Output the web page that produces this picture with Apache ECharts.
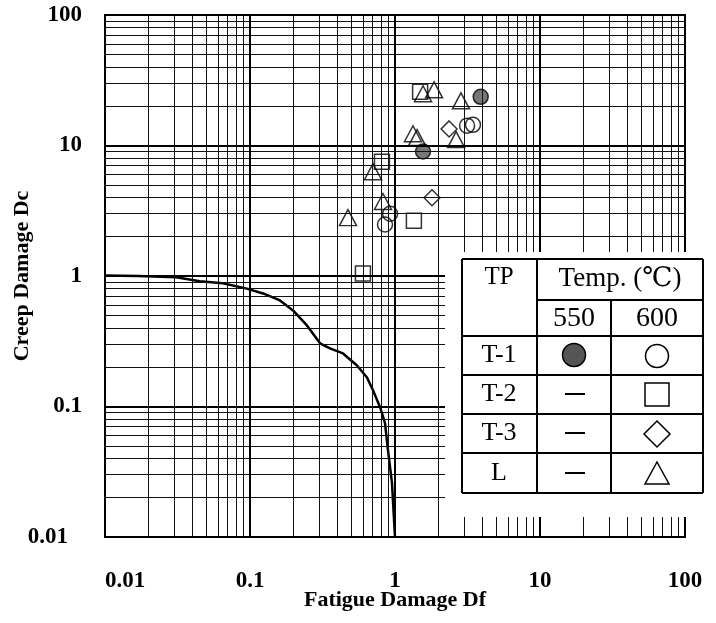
<!DOCTYPE html>
<html>
<head>
<meta charset="utf-8">
<title>Creep–Fatigue Damage Interaction</title>
<script src="https://cdn.jsdelivr.net/npm/echarts@6/dist/echarts.min.js"></script>
<style>
  html, body { margin: 0; padding: 0; background: #fff; }
  #chart { width: 716px; height: 623px; }
</style>
</head>
<body>
<div id="chart"></div>
<script>
// Axis tick labels (decades)
const xTickLabels = ['0.01', '0.1', '1', '10', '100'];
const yTickLabels = ['0.01', '0.1', '1', '10', '100'];

// Log-paper grid: intermediate lines 2..9 inside each decade, plus decade lines
const minorMultipliers = [2, 3, 4, 5, 6, 7, 8, 9];
const decadeStarts = [0.01, 0.1, 1, 10];
const decadeLines = [0.1, 1, 10];

// Damage envelope (bilinear-type design curve)
const curveDf = [0.01, 0.0169, 0.031, 0.045, 0.065, 0.095, 0.123, 0.161, 0.198, 0.247, 0.304, 0.356, 0.438, 0.547, 0.641, 0.705, 0.789, 0.853, 0.895, 0.953, 1.0];
const curveDc = [1.01, 1.0, 0.98, 0.91, 0.88, 0.80, 0.735, 0.65, 0.545, 0.418, 0.305, 0.279, 0.255, 0.206, 0.167, 0.133, 0.0987, 0.0745, 0.046, 0.026, 0.01];

// Test results: fatigue damage Df and creep damage Dc
const t1At550Df = [3.9, 1.56];
const t1At550Dc = [23.6, 9.0];
const t1At600Df = [3.14, 3.45, 0.925, 0.853];
const t1At600Dc = [14.2, 14.4, 3.0, 2.48];
const t2At600Df = [1.49, 0.813, 1.35, 0.601];
const t2At600Dc = [25.8, 7.5, 2.65, 1.045];
const t3At600Df = [2.36, 1.80];
const t3At600Dc = [13.4, 3.98];
const lAt600Df = [1.56, 1.86, 2.85, 2.64, 1.33, 1.42, 0.705, 0.826, 0.474];
const lAt600Dc = [24.9, 26.7, 22.0, 11.1, 12.3, 11.5, 6.3, 3.72, 2.8];

const SERIF = "'Liberation Serif', 'DejaVu Serif', 'Noto Sans CJK JP', serif";

function zip(xs, ys) { return xs.map((x, i) => [x, ys[i]]); }

const gridValues = [];
decadeStarts.forEach(d => minorMultipliers.forEach(m => gridValues.push(+(d * m).toPrecision(3))));

const gridLineData = [];
gridValues.forEach(v => {
  gridLineData.push({ xAxis: v });
  gridLineData.push({ yAxis: v });
});
decadeLines.forEach(v => {
  gridLineData.push({ xAxis: v, lineStyle: { width: 2, color: '#000' } });
  gridLineData.push({ yAxis: v, lineStyle: { width: 2, color: '#000' } });
});

function tickLabel(labels, v) {
  const idx = Math.round(Math.log10(v)) + 2;
  return labels[idx] !== undefined ? labels[idx] : '';
}

const hollow = { color: 'rgba(0,0,0,0)', borderColor: '#000', borderWidth: 1.5 };

// Legend table (drawn over a white panel that hides the grid beneath it)
const tbl = { l: 462, c1: 537, c2: 611, r: 703, t: 259, sub: 300, rows: [336, 375, 414, 453, 493] };
const lineStyle = { stroke: '#000', lineWidth: 2 };
function hLine(x1, x2, y) { return { type: 'line', z: 101, shape: { x1, y1: y, x2, y2: y }, style: lineStyle }; }
function vLine(x, y1, y2) { return { type: 'line', z: 101, shape: { x1: x, y1, x2: x, y2 }, style: lineStyle }; }
function txt(text, x, y, size) {
  return { type: 'text', z: 102, x, y, style: { text, fill: '#000', font: size + 'px ' + SERIF, align: 'center', verticalAlign: 'middle' } };
}
const rowCenters = [355, 394, 433, 473];
const rowNames = ['T-1', 'T-2', 'T-3', 'L'];
const col550 = 574, col600 = 657;

const tableGraphics = [
  { type: 'rect', z: 100, shape: { x: 445, y: 252, width: 262, height: 265 }, style: { fill: '#fff' } },
  hLine(tbl.l, tbl.r, tbl.t),
  hLine(tbl.c1, tbl.r, tbl.sub),
  ...tbl.rows.map(y => hLine(tbl.l, tbl.r, y)),
  vLine(tbl.l, tbl.t, tbl.rows[4]),
  vLine(tbl.c1, tbl.t, tbl.rows[4]),
  vLine(tbl.c2, tbl.sub, tbl.rows[4]),
  vLine(tbl.r, tbl.t, tbl.rows[4]),
  txt('TP', 499, 277, 25),
  txt('Temp. (℃)', 620, 279, 27),
  txt('550', col550, 319, 28),
  txt('600', col600, 319, 28),
  ...rowNames.map((n, i) => txt(n, 499, rowCenters[i], 26)),
  // 550 °C column
  { type: 'circle', z: 102, shape: { cx: col550, cy: 355, r: 11.5 }, style: { fill: '#555', stroke: '#000', lineWidth: 1.5 } },
  ...[394, 433, 473].map(y => ({ type: 'line', z: 102, shape: { x1: 565, y1: y, x2: 585, y2: y }, style: { stroke: '#000', lineWidth: 2 } })),
  // 600 °C column
  { type: 'circle', z: 102, shape: { cx: col600, cy: 356, r: 11.5 }, style: { fill: 'none', stroke: '#000', lineWidth: 1.5 } },
  { type: 'rect', z: 102, shape: { x: 645, y: 383, width: 24, height: 23 }, style: { fill: 'none', stroke: '#000', lineWidth: 1.5 } },
  { type: 'polygon', z: 102, shape: { points: [[col600, 421], [670, 434], [col600, 447], [644, 434]] }, style: { fill: 'none', stroke: '#000', lineWidth: 1.5 } },
  { type: 'polygon', z: 102, shape: { points: [[col600, 462], [669, 484], [645, 484]] }, style: { fill: 'none', stroke: '#000', lineWidth: 1.5 } }
];

const chart = echarts.init(document.getElementById('chart'), null, { renderer: 'canvas' });

chart.setOption({
  animation: false,
  backgroundColor: '#fff',
  grid: {
    left: 105, top: 15, right: 31, bottom: 86,
    containLabel: false, outerBoundsMode: 'none',
    show: true, borderColor: '#000', borderWidth: 2, backgroundColor: 'transparent'
  },
  xAxis: {
    type: 'log', logBase: 10, min: 0.01, max: 100,
    name: 'Fatigue Damage Df', nameLocation: 'middle', nameGap: 52, nameMoveOverlap: false,
    nameTextStyle: { fontFamily: SERIF, fontWeight: 'bold', fontSize: 22, color: '#000' },
    axisLine: { show: true, lineStyle: { color: '#000', width: 2 } },
    axisTick: { show: false },
    splitLine: { show: true, lineStyle: { color: '#000', width: 2 } },
    axisLabel: {
      margin: 33, fontFamily: SERIF, fontWeight: 'bold', fontSize: 23, color: '#000',
      alignMinLabel: 'left',
      formatter: v => tickLabel(xTickLabels, v)
    }
  },
  yAxis: {
    type: 'log', logBase: 10, min: 0.01, max: 100,
    name: 'Creep Damage Dc', nameLocation: 'middle', nameGap: 72, nameMoveOverlap: false,
    nameTextStyle: { fontFamily: SERIF, fontWeight: 'bold', fontSize: 22, color: '#000' },
    axisLine: { show: true, lineStyle: { color: '#000', width: 2 } },
    axisTick: { show: false },
    splitLine: { show: true, lineStyle: { color: '#000', width: 2 } },
    axisLabel: {
      margin: 23, fontFamily: SERIF, fontWeight: 'bold', fontSize: 23, color: '#000',
      formatter: v => {
        const s = tickLabel(yTickLabels, v);
        return Math.abs(v - 0.01) < 1e-9 ? '{low|' + s + '}' : s;
      },
      rich: { low: { fontFamily: SERIF, fontWeight: 'bold', fontSize: 23, color: '#000', padding: [0, 14, 0, 0] } }
    }
  },
  graphic: tableGraphics,
  series: [
    {
      name: 'grid', type: 'scatter', data: [], z: 1, silent: true,
      markLine: {
        silent: true, animation: false, symbol: ['none', 'none'],
        label: { show: false },
        lineStyle: { color: '#111', width: 1, type: 'solid' },
        emphasis: { disabled: true },
        data: gridLineData
      }
    },
    {
      name: 'envelope', type: 'line', z: 3, showSymbol: false, symbol: 'none',
      lineStyle: { color: '#000', width: 2.5 },
      data: zip(curveDf, curveDc)
    },
    { name: 'T-1 550', type: 'scatter', z: 4, symbol: 'circle', symbolSize: 15,
      itemStyle: { color: '#555', borderColor: '#000', borderWidth: 1.5 }, data: zip(t1At550Df, t1At550Dc) },
    { name: 'T-1 600', type: 'scatter', z: 4, symbol: 'circle', symbolSize: 15,
      itemStyle: hollow, data: zip(t1At600Df, t1At600Dc) },
    { name: 'T-2 600', type: 'scatter', z: 4, symbol: 'rect', symbolSize: 15,
      itemStyle: hollow, data: zip(t2At600Df, t2At600Dc) },
    { name: 'T-3 600', type: 'scatter', z: 4, symbol: 'diamond', symbolSize: 16,
      itemStyle: hollow, data: zip(t3At600Df, t3At600Dc) },
    { name: 'L 600', type: 'scatter', z: 4, symbol: 'triangle', symbolSize: [17, 16],
      itemStyle: hollow, data: zip(lAt600Df, lAt600Dc) }
  ]
});
</script>
</body>
</html>
